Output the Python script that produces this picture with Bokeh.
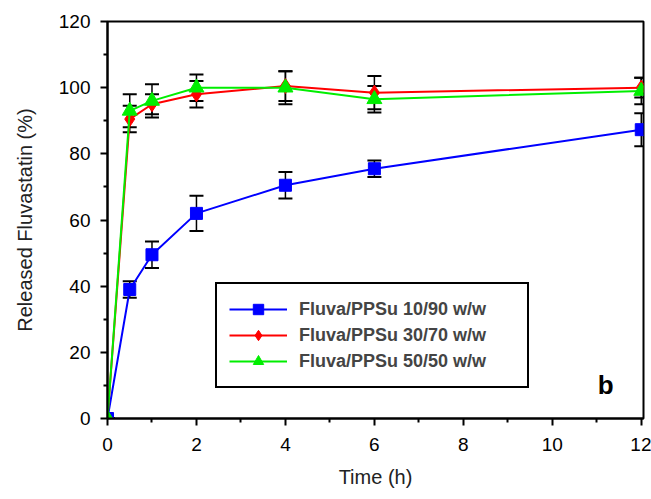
from bokeh.plotting import figure
from bokeh.models import (Range1d, Whisker, ColumnDataSource, Label, Legend,
                          LegendItem, TeeHead, FixedTicker)
from bokeh.embed import file_html
from bokeh.resources import INLINE

# ---- data ----
time_h = [0, 0.5, 1, 2, 4, 6, 12]
fluva_10_90 = [0, 39, 49.5, 62, 70.5, 75.5, 87.3]
err_10_90 = [0, 2.5, 4, 5.3, 4, 2.5, 5]
fluva_30_70 = [0, 90.5, 95, 98, 100.5, 98.5, 100]
err_30_70 = [0, 4, 3, 4, 4.5, 5, 3]
fluva_50_50 = [0, 93, 96, 100, 100, 96.5, 99]
err_50_50 = [0, 5, 5, 4, 5, 4, 4]
series_labels = ["Fluva/PPSu 10/90 w/w", "Fluva/PPSu 30/70 w/w", "Fluva/PPSu 50/50 w/w"]
x_ticks = [0, 2, 4, 6, 8, 10, 12]
y_ticks = [0, 20, 40, 60, 80, 100, 120]

FONT = "Liberation Sans Narrow, Liberation Sans, Arial, sans-serif"

p = figure(width=651, height=499, output_backend="svg", toolbar_location=None,
           x_range=Range1d(0, 12.05), y_range=Range1d(0, 120),
           min_border_left=107, min_border_right=8, min_border_top=21,
           min_border_bottom=81)
p.grid.visible = False
p.outline_line_color = "black"
p.outline_line_width = 2
p.outline_line_alpha = 1
p.background_fill_color = "white"

for ax in (p.xaxis[0], p.yaxis[0]):
    ax.axis_line_width = 2
    ax.axis_line_color = "black"
    ax.major_tick_in = 0
    ax.major_tick_out = 7
    ax.minor_tick_in = 0
    ax.minor_tick_out = 4
    ax.major_tick_line_width = 2
    ax.minor_tick_line_width = 2
    ax.major_label_text_font = FONT
    ax.major_label_text_font_size = "19px"
    ax.major_label_text_color = "black"
    ax.axis_label_text_font = FONT
    ax.axis_label_text_font_size = "20px"
    ax.axis_label_text_font_style = "normal"
    ax.axis_label_text_color = "#222222"

p.xaxis.ticker = FixedTicker(ticks=x_ticks, minor_ticks=[1, 3, 5, 7, 9, 11])
p.yaxis.ticker = FixedTicker(ticks=y_ticks, minor_ticks=[10, 30, 50, 70, 90, 110])
p.xaxis.axis_label = "Time (h)"
p.yaxis.axis_label = "Released Fluvastatin (%)"
p.xaxis.major_label_standoff = 12
p.yaxis.major_label_standoff = 10
p.xaxis.axis_label_standoff = 12
p.yaxis.axis_label_standoff = 20

series = [
    (fluva_10_90, err_10_90, "#0000ff", "square", 12),
    (fluva_30_70, err_30_70, "#ff0000", "diamond", 15),
    (fluva_50_50, err_50_50, "#00ee00", "triangle", 15),
]

items = []
for (vals, errs, color, marker, size), lab in zip(series, series_labels):
    src = ColumnDataSource(dict(
        x=time_h, y=vals,
        upper=[v + e for v, e in zip(vals, errs)],
        lower=[v - e for v, e in zip(vals, errs)],
    ))
    lr = p.line("x", "y", source=src, line_color=color, line_width=2)
    w = Whisker(base="x", upper="upper", lower="lower", source=src,
                line_color="black", line_width=1.5, level="underlay",
                upper_head=TeeHead(size=14, line_color="black", line_width=2),
                lower_head=TeeHead(size=14, line_color="black", line_width=2))
    p.add_layout(w)
    sr = p.scatter("x", "y", source=src, marker=marker, size=size,
                   fill_color=color, line_color=color)
    items.append(LegendItem(label=lab, renderers=[lr, sr]))

legend = Legend(items=items, location=(108, 30))
legend.border_line_color = "black"
legend.border_line_width = 2
legend.border_line_alpha = 1
legend.background_fill_color = "white"
legend.background_fill_alpha = 1
legend.label_text_font = FONT
legend.label_text_font_size = "18px"
legend.label_text_font_style = "bold"
legend.glyph_width = 58
legend.glyph_height = 26
legend.label_height = 26
legend.spacing = 0
legend.padding = 12
legend.margin = 0
legend.label_standoff = 12
legend.label_width = 216
p.add_layout(legend)

p.add_layout(Label(x=11.2, y=10, text="b", text_font=FONT, text_font_size="26px",
                   text_font_style="bold", text_align="center",
                   text_baseline="middle", text_color="black"))

open("out.html", "w").write(file_html(p, INLINE))
